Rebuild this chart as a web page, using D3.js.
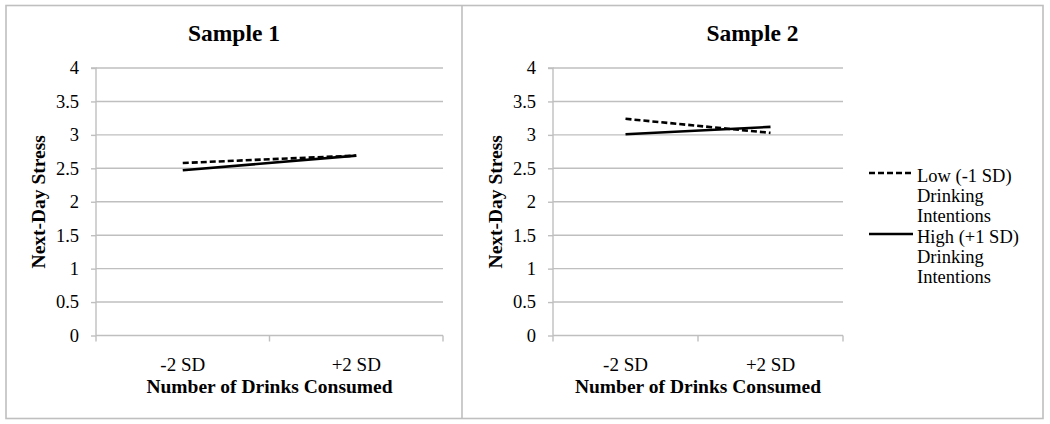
<!DOCTYPE html>
<html>
<head>
<meta charset="utf-8">
<script src="https://cdn.jsdelivr.net/npm/d3@7"></script>
<style>
  body { margin: 0; background: #fff; }
  svg text { font-family: "Liberation Serif", "Times New Roman", serif; fill: #000; }
</style>
</head>
<body>
<svg id="chart" width="1050" height="424"></svg>
<script>
// ---- data ----
const categories = ["-2 SD", "+2 SD"];
const yTicks = [0, 0.5, 1, 1.5, 2, 2.5, 3, 3.5, 4];
const panelTitles = ["Sample 1", "Sample 2"];
const seriesNames = ["Low (-1 SD) Drinking Intentions", "High (+1 SD) Drinking Intentions"];
const legendLines = [["Low (-1 SD)", "Drinking", "Intentions"], ["High (+1 SD)", "Drinking", "Intentions"]];
const sample1Low = [2.58, 2.69];
const sample1High = [2.47, 2.69];
const sample2Low = [3.24, 3.03];
const sample2High = [3.01, 3.12];
const xTitle = "Number of Drinks Consumed";
const yTitle = "Next-Day Stress";

// ---- layout ----
const svg = d3.select("#chart");
const gray = "#bfbfbf";
const plotTop = 68, plotBottom = 335.5;

const panels = [
  { title: panelTitles[0], x0: 96, x1: 443, pLeft: 6, pRight: 462, low: sample1Low, high: sample1High },
  { title: panelTitles[1], x0: 553, x1: 843, pLeft: 462, pRight: 1043, low: sample2Low, high: sample2High }
];

// outer frame and divider
svg.append("rect").attr("x", 6).attr("y", 5.5).attr("width", 1037).attr("height", 413)
  .attr("fill", "none").attr("stroke", gray).attr("stroke-width", 1.6);
svg.append("line").attr("x1", 462).attr("x2", 462).attr("y1", 5.5).attr("y2", 418.5)
  .attr("stroke", gray).attr("stroke-width", 1.6);

const y = d3.scaleLinear().domain([0, 4]).range([plotBottom, plotTop]);

panels.forEach(p => {
  const g = svg.append("g");
  const x = d3.scaleBand().domain(categories).range([p.x0, p.x1]);

  // title
  g.append("text").attr("x", (p.pLeft + p.pRight) / 2).attr("y", 40.5)
    .attr("text-anchor", "middle").attr("font-weight", "bold").attr("font-size", 23.5)
    .text(p.title);

  // gridlines
  g.selectAll(".grid").data(yTicks.filter(t => t > 0)).enter().append("line")
    .attr("x1", p.x0).attr("x2", p.x1)
    .attr("y1", d => y(d)).attr("y2", d => y(d))
    .attr("stroke", gray).attr("stroke-width", 1.4);

  // y axis
  const yAxis = d3.axisLeft(y).tickValues(yTicks).tickSize(5).tickPadding(12).tickFormat(d3.format("~g"));
  const ya = g.append("g").attr("transform", `translate(${p.x0},0)`).call(yAxis);
  ya.select(".domain").attr("stroke", gray).attr("stroke-width", 1.4)
    .attr("d", `M-5,${plotTop}H0V${plotBottom}`);
  ya.selectAll(".tick line").attr("stroke", gray).attr("stroke-width", 1.4);
  ya.selectAll(".tick text").attr("font-size", 18.5).attr("fill", "#000");

  // x axis
  const xAxis = d3.axisBottom(x).tickSize(0).tickPadding(22);
  const xa = g.append("g").attr("transform", `translate(0,${plotBottom})`).call(xAxis);
  xa.select(".domain").attr("stroke", gray).attr("stroke-width", 1.4)
    .attr("d", `M${p.x0},0H${p.x1}`);
  xa.selectAll(".tick text").attr("font-size", 19).attr("fill", "#000");
  // tick marks at band boundaries
  const bounds = [p.x0, ...categories.slice(1).map(c => x(c)), p.x1];
  xa.selectAll(".bnd").data(bounds).enter().append("line")
    .attr("x1", d => d).attr("x2", d => d).attr("y1", 0).attr("y2", 6)
    .attr("stroke", gray).attr("stroke-width", 1.4);

  // axis titles
  g.append("text").attr("x", (p.x0 + p.x1) / 2).attr("y", 393)
    .attr("text-anchor", "middle").attr("font-weight", "bold").attr("font-size", 19.5)
    .text(xTitle);
  g.append("text").attr("transform", `translate(${p.x0 - 51},${(plotTop + plotBottom) / 2}) rotate(-90)`)
    .attr("text-anchor", "middle").attr("font-weight", "bold").attr("font-size", 19.5)
    .text(yTitle);

  // lines
  const line = d3.line().x((d, i) => x(categories[i]) + x.bandwidth() / 2).y(d => y(d));
  g.append("path").datum(p.high).attr("d", line).attr("fill", "none")
    .attr("stroke", "#000").attr("stroke-width", 2.6);
  g.append("path").datum(p.low).attr("d", line).attr("fill", "none")
    .attr("stroke", "#000").attr("stroke-width", 2.6).attr("stroke-dasharray", "6,3");
});

// legend
const legend = svg.append("g");
const legendY = [173, 234];
seriesNames.forEach((s, i) => {
  legend.append("line").attr("x1", 869).attr("x2", 913).attr("y1", legendY[i]).attr("y2", legendY[i])
    .attr("stroke", "#000").attr("stroke-width", 2.6)
    .attr("stroke-dasharray", i === 0 ? "6,3" : null);
  legendLines[i].forEach((l, j) => {
    legend.append("text").attr("x", 917).attr("y", legendY[i] + 8.5 + j * 20)
      .attr("font-size", 18.5).text(l);
  });
});
</script>
</body>
</html>
